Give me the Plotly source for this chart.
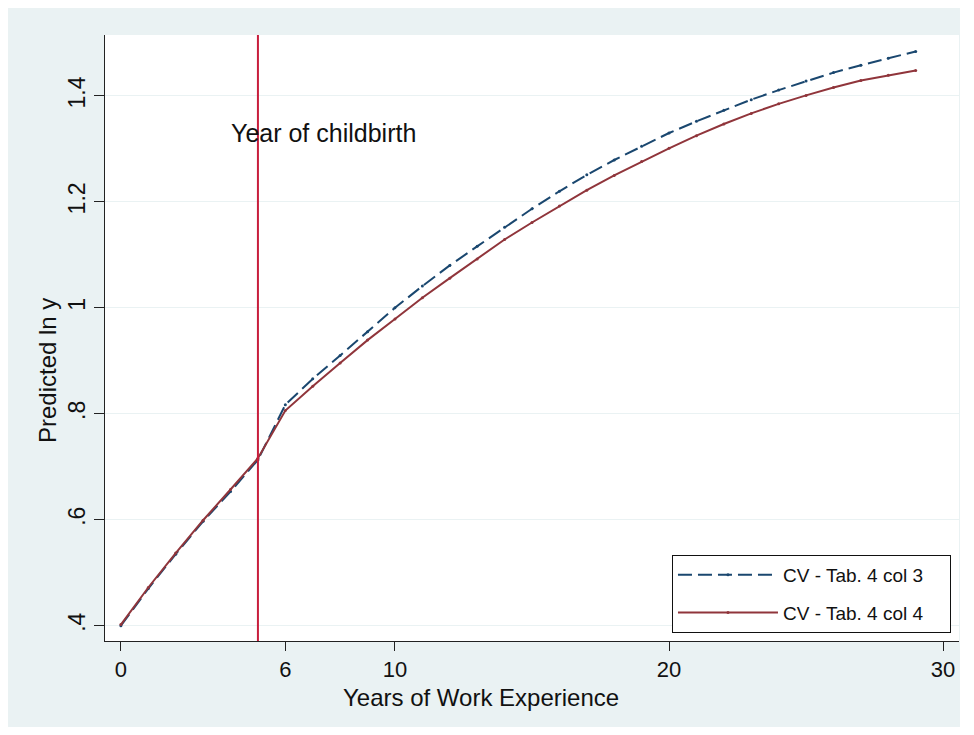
import plotly.graph_objects as go

years = list(range(0, 30))
col3 = [0.400, 0.470, 0.535, 0.597, 0.653, 0.713, 0.817, 0.866, 0.910, 0.955,
        1.000, 1.041, 1.080, 1.116, 1.152, 1.187, 1.220, 1.251, 1.279, 1.305,
        1.330, 1.352, 1.373, 1.393, 1.411, 1.428, 1.444, 1.458, 1.471, 1.484]
col4 = [0.402, 0.472, 0.537, 0.599, 0.657, 0.716, 0.806, 0.852, 0.896, 0.939,
        0.979, 1.019, 1.056, 1.092, 1.129, 1.161, 1.192, 1.222, 1.250, 1.276,
        1.301, 1.325, 1.347, 1.367, 1.385, 1.401, 1.416, 1.429, 1.439, 1.448]
series_names = ["CV - Tab. 4 col 3", "CV - Tab. 4 col 4"]
childbirth_year = 5
x_ticks = [0, 6, 10, 20, 30]
y_ticks = [0.4, 0.6, 0.8, 1.0, 1.2, 1.4]
y_tick_labels = [".4", ".6", ".8", "1", "1.2", "1.4"]

BG = "#EAF2F3"
FONT = "Liberation Sans, Arial, sans-serif"
PAD = "\u00a0\u00a0\u00a0\u00a0"

fig = go.Figure()
fig.add_trace(go.Scatter(
    x=years, y=col3, mode="lines+markers", name=series_names[0] + PAD,
    legendgroup="a",
    line=dict(color="#1A476F", width=2, dash="14px,6px"),
    marker=dict(size=3, color="#1A476F"),
))
fig.add_trace(go.Scatter(
    x=years, y=col4, mode="lines+markers", name=series_names[1] + PAD,
    legendgroup="b",
    line=dict(color="#90353B", width=2),
    marker=dict(size=3, color="#90353B"),
))

fig.add_vline(x=childbirth_year, line=dict(color="#C81E3C", width=2), layer="above")

fig.add_annotation(x=3.94, y=1.33, xref="x", yref="y", text="Year of childbirth",
                   showarrow=False, xanchor="left", yanchor="middle",
                   font=dict(family=FONT, size=25, color="#111"))
fig.add_annotation(x=-0.0679, y=0.4455, xref="paper", yref="paper", text="Predicted ln y",
                   textangle=-90, showarrow=False, xanchor="center", yanchor="middle",
                   font=dict(family=FONT, size=24, color="#111"))
fig.add_annotation(x=0.4403, y=-0.0935, xref="paper", yref="paper",
                   text="Years of Work Experience", showarrow=False,
                   xanchor="center", yanchor="middle",
                   font=dict(family=FONT, size=24, color="#111"))

fig.update_layout(
    width=952, height=719,
    margin=dict(l=97, r=1, t=27, b=86),
    paper_bgcolor=BG, plot_bgcolor="white",
    font=dict(family=FONT, color="#111"),
    showlegend=True,
    legend=dict(
        x=0.9906, y=0.0132, xanchor="right", yanchor="bottom",
        bgcolor="white", bordercolor="#111", borderwidth=1,
        font=dict(family=FONT, size=19, color="#111"),
        itemwidth=100, traceorder="grouped", tracegroupgap=10,
    ),
    xaxis=dict(
        range=[-0.58, 30.58], tickvals=x_ticks, ticks="outside", ticklen=9,
        tickcolor="#222", showline=True, linecolor="#222", linewidth=1,
        showgrid=False, zeroline=False,
        tickfont=dict(family=FONT, size=22, color="#111"),
    ),
    yaxis=dict(
        range=[0.371, 1.515], tickvals=y_ticks, ticktext=y_tick_labels,
        tickangle=-90, ticks="outside", ticklen=10, tickcolor="#222",
        showline=True, linecolor="#222", linewidth=1,
        showgrid=True, gridcolor=BG, gridwidth=1, zeroline=False,
        tickfont=dict(family=FONT, size=23, color="#111"),
    ),
)

fig.write_html("out.html")
